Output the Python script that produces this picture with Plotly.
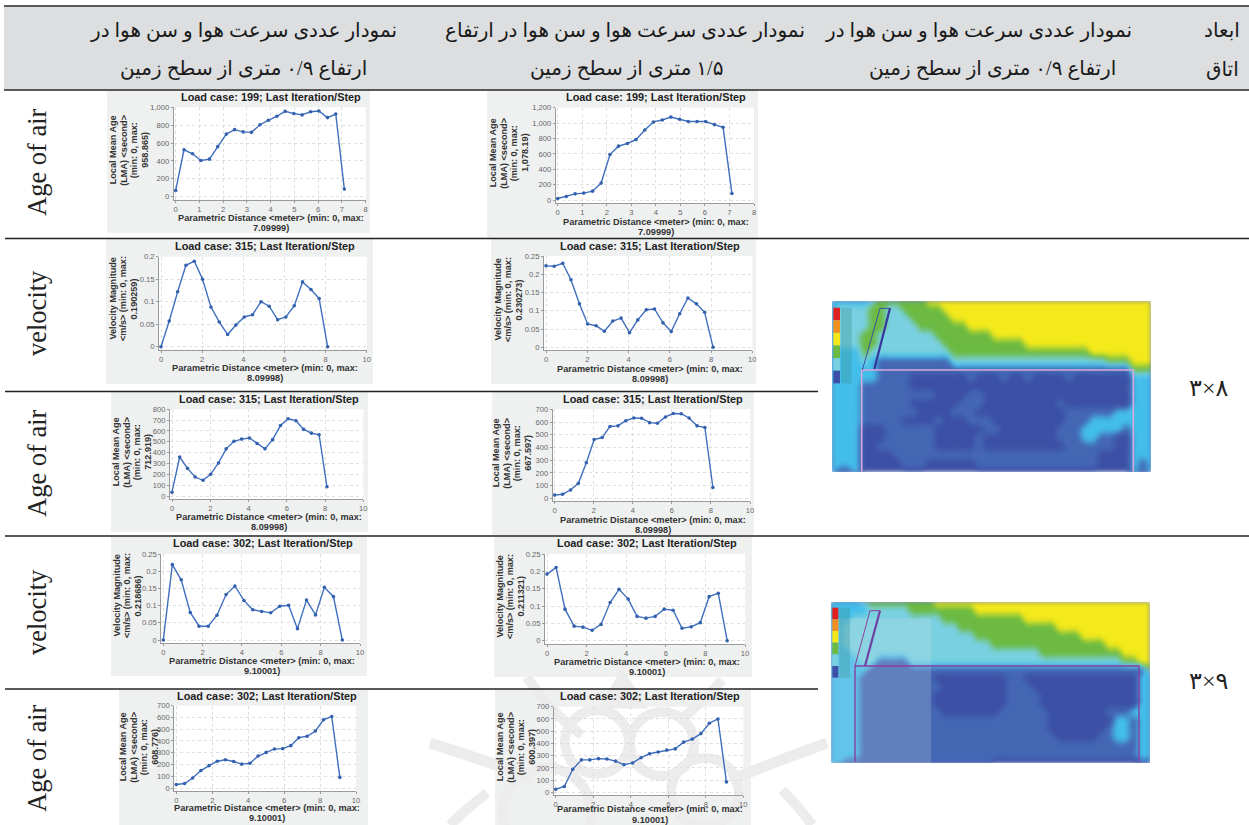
import plotly.graph_objects as go

W, H = 1249, 825

# ---------- data ----------
x71 = [0, .35, .71, 1.06, 1.42, 1.77, 2.13, 2.48, 2.84, 3.19, 3.55, 3.9, 4.26, 4.61, 4.97, 5.32, 5.68, 6.03, 6.39, 6.74, 7.1]
x81 = [0, .4, .81, 1.21, 1.62, 2.02, 2.43, 2.83, 3.24, 3.64, 4.05, 4.45, 4.86, 5.26, 5.67, 6.07, 6.48, 6.88, 7.29, 7.69, 8.1]
x91 = [0, .46, .91, 1.37, 1.82, 2.28, 2.73, 3.19, 3.64, 4.1, 4.55, 5.0, 5.46, 5.92, 6.37, 6.82, 7.28, 7.74, 8.19, 8.65, 9.1]

age_199_a = [70, 525, 480, 405, 420, 560, 700, 750, 725, 720, 805, 855, 900, 955, 930, 915, 950, 958, 885, 925, 85]
age_199_b = [20, 45, 80, 90, 115, 220, 590, 700, 735, 785, 910, 1015, 1040, 1078, 1050, 1020, 1020, 1020, 980, 945, 85]
vel_315_a = [0, .057, .122, .181, .19, .15, .088, .055, .027, .048, .066, .071, .1, .09, .06, .066, .091, .144, .127, .107, 0]
vel_315_b = [.223, .222, .23, .185, .119, .064, .059, .044, .072, .08, .04, .075, .103, .105, .067, .043, .092, .135, .119, .096, 0]
age_315_a = [35, 360, 255, 175, 145, 200, 305, 435, 505, 525, 535, 485, 435, 520, 650, 713, 695, 615, 580, 565, 85]
age_315_b = [25, 32, 65, 118, 280, 462, 478, 565, 570, 610, 632, 630, 595, 590, 640, 667, 665, 632, 570, 557, 85]
vel_302_a = [0, .219, .175, .08, .04, .04, .072, .132, .157, .115, .088, .083, .079, .098, .101, .033, .116, .073, .153, .126, 0]
vel_302_b = [.192, .211, .091, .042, .039, .03, .047, .11, .148, .12, .07, .065, .07, .091, .088, .036, .04, .052, .127, .137, 0]
age_302_a = [30, 38, 85, 148, 190, 228, 240, 225, 203, 210, 272, 303, 332, 335, 360, 428, 440, 485, 580, 608, 90]
age_302_b = [25, 48, 188, 265, 265, 275, 272, 255, 225, 240, 283, 315, 330, 345, 355, 410, 435, 480, 565, 600, 85]

age_ticks_1000 = [0, 200, 400, 600, 800, 1000]
age_ticks_1200 = [0, 200, 400, 600, 800, 1000, 1200]
age_ticks_800 = [0, 100, 200, 300, 400, 500, 600, 700, 800]
age_ticks_700 = [0, 100, 200, 300, 400, 500, 600, 700]
vel_ticks_02 = [0, .05, .1, .15, .2]
vel_ticks_025 = [0, .05, .1, .15, .2, .25]
x_ticks_8 = [0, 1, 2, 3, 4, 5, 6, 7, 8]
x_ticks_10 = [0, 2, 4, 6, 8, 10]

# flow-field levels: 0 dark blue, 1 mid blue, 2 sky, 3 pale teal, 4 green, 5 yellow
field_3x8 = [
 "2222234444445555555555555555555555555555",
 "2333344334444455555555555555555555555555",
 "2333344333444445555555555555555555555555",
 "2333344333344444455555555555555555555555",
 "2333443333333444444455555555555555555555",
 "2333443333333344444444445555555555555555",
 "2222433333333334444444444444444455555555",
 "2222321111111113333333333333333333444555",
 "2222221111111111111111111111111111111444",
 "2222221111000000010001001000010000000222",
 "2222111111000000000000000000000000000222",
 "2222111111111000011000000000000000000222",
 "2222111111000000111000000000100000000222",
 "2222111111100001110000000000011111122222",
 "2222111110000100011100000000011122222222",
 "2222000111111000000110000000111222221222",
 "2222000111111000001000000000111221100222",
 "2222001111111000001000000000011111100222",
 "2222000011111111111111111111111110000222",
 "2222000001110000001111111111111110000212",
 "2112000000000000000000000000000000000212",
]
field_3x9 = [
 "2222344444444555555555555555555555555555",
 "2222233333444444445555555555555555555555",
 "2223333333333344444444445555555555555555",
 "2233333333333333444444444444555555555555",
 "2233333333333333334444444444444555555555",
 "2233333333333333333344444444444444555555",
 "2223333333333333333333333344444444445555",
 "2222331111333333333333333333333333334455",
 "2222211111111111111111111111111111111114",
 "2222111111111000000000110000000000000022",
 "2222111111111100000000111000000000000022",
 "2222111111111000000000111100000000000022",
 "2222111111111000000000111100000000000022",
 "2222111111111100000001111110000000111222",
 "2222111111111111111111111110000000022122",
 "2222111111111111111111111110000000122122",
 "2222111111111111111111111111000001122122",
 "2222111111111111111111111111111111111122",
 "2222111111111111111111111111111111111122",
 "2211111111111111111100000000000000000011",
]

header_line1 = "نمودار عددی سرعت هوا و سن هوا در"
header_line2 = "ارتفاع ۰/۹ متری از سطح زمین"
header2_line1 = "نمودار عددی سرعت هوا و سن هوا در ارتفاع"
header2_line2 = "\u200f۱/۵ متری از سطح زمین"
header4_line1 = "ابعاد"
header4_line2 = "اتاق"
room_sizes = ["۳×۸", "۳×۹"]

# ---------- layout of the panels (pixels) ----------
AGE = ["Local Mean Age", "(LMA) &lt;second&gt;", "(min: 0, max:"]
VEL = ["Velocity Magnitude", "&lt;m/s&gt; (min: 0, max:"]
DIST = "Parametric Distance &lt;meter&gt; (min: 0, max:"

charts = [
 dict(x=x71, y=age_199_a, case=199, box=(107, 90, 370, 233), x0=175.7, x1=365.7, y0=196.7, y1=107.3, xt=x_ticks_8, yt=age_ticks_1000,
      t=(271, 97), xl=(271, 223), yl=(129, 150), ylabel=AGE + ["958.865)"], dist="7.09999)"),
 dict(x=x71, y=age_199_b, case=199, box=(487, 90, 758, 238), x0=557.7, x1=754, y0=200, y1=107.7, xt=x_ticks_8, yt=age_ticks_1200,
      t=(656, 97), xl=(656, 227), yl=(509, 153), ylabel=AGE + ["1,078.19)"], dist="7.09999)"),
 dict(x=x81, y=vel_315_a, case=315, box=(106, 239, 373, 384), x0=161, x1=366.7, y0=346.7, y1=256.7, xt=x_ticks_10, yt=vel_ticks_02,
      t=(265, 246), xl=(265, 373), yl=(123, 299), ylabel=VEL + ["0.190259)"], dist="8.09998)"),
 dict(x=x81, y=vel_315_b, case=315, box=(491, 239, 756, 384), x0=546, x1=752.3, y0=347.3, y1=256, xt=x_ticks_10, yt=vel_ticks_025,
      t=(650, 246), xl=(650, 374), yl=(508, 300), ylabel=VEL + ["0.230273)"], dist="8.09998)"),
 dict(x=x81, y=age_315_a, case=315, box=(111, 392, 368, 532), x0=172, x1=363.3, y0=496, y1=409.3, xt=x_ticks_10, yt=age_ticks_800,
      t=(269, 399), xl=(269, 522), yl=(132, 452), ylabel=AGE + ["712.919)"], dist="8.09998)"),
 dict(x=x81, y=age_315_b, case=315, box=(492, 392, 754, 535), x0=554.7, x1=750, y0=498.3, y1=409.3, xt=x_ticks_10, yt=age_ticks_700,
      t=(653, 399), xl=(653, 525), yl=(512, 453), ylabel=AGE + ["667.597)"], dist="8.09998)"),
 dict(x=x91, y=vel_302_a, case=302, box=(111, 537, 367, 676), x0=163.3, x1=360, y0=640, y1=554, xt=x_ticks_10, yt=vel_ticks_025,
      t=(263, 543), xl=(262, 666), yl=(127, 596), ylabel=VEL + ["0.218686)"], dist="9.10001)"),
 dict(x=x91, y=vel_302_b, case=302, box=(494, 537, 752, 677), x0=547, x1=745, y0=640.7, y1=554, xt=x_ticks_10, yt=vel_ticks_025,
      t=(647, 543), xl=(647, 667), yl=(510, 597), ylabel=VEL + ["0.211321)"], dist="9.10001)"),
 dict(x=x91, y=age_302_a, case=302, box=(119, 690, 368, 825), x0=176.3, x1=356, y0=788, y1=705.7, xt=x_ticks_10, yt=age_ticks_700,
      t=(267, 696), xl=(267, 813), yl=(139, 747), ylabel=AGE + ["608.776)"], dist="9.10001)"),
 dict(x=x91, y=age_302_b, case=302, box=(495, 690, 751, 825), x0=555.7, x1=743.3, y0=792.3, y1=706.7, xt=x_ticks_10, yt=age_ticks_700,
      t=(650, 696), xl=(650, 814.5), yl=(516, 747), ylabel=AGE + ["600.397)"], dist="9.10001)"),
]

fields = [
 dict(z=field_3x8, box=(832, 301, 1151, 472), org=(825, 295), wall="#d9a9dc", wallw=1.6,
      room=[(110, 530), (110, 225), (925, 225), (925, 530)], chim=[(112, 225), (165, 40), (195, 40), (148, 222)], chimc="#3a4fa6",
      edge=[(195, 40), (148, 222)], edgec="#35389a", bar=(25, 38, 45, 265)),
 dict(z=field_3x9, box=(831, 602, 1150, 763), org=(825, 595), wall="#8a3f9e", wallw=1.4,
      room=[(90, 500), (90, 213), (942, 213), (942, 500)], chim=[(90, 213), (135, 47), (165, 47), (120, 213)], chimc="#8a3f9e",
      edge=[(165, 47), (120, 213)], edgec="#6f43a6", bar=(22, 38, 40, 248)),
]

LINE = "#3f6fbe"
MARK = "#3461ad"
TICK = "#666666"
TXT = "#2b2b2b"
UI = "Liberation Sans"
AR = "Liberation Serif, DejaVu Sans"
SER = "Liberation Serif"
XPITCH = 10.6
YPITCH = 10.5


def fx(v):
    return v / W


def fy(v):
    return 1 - v / H


def rect(x0, y0, x1, y1, fill, layer="below"):
    return dict(type="rect", xref="paper", yref="paper", x0=fx(x0), x1=fx(x1), y0=fy(y1), y1=fy(y0),
                fillcolor=fill, line_width=0, layer=layer)


def hline(y, x0, x1, width=1.7, color="#222222"):
    return dict(type="line", xref="paper", yref="paper", x0=fx(x0), x1=fx(x1), y0=fy(y), y1=fy(y),
                line=dict(color=color, width=width), layer="below")


def path(points, color, width, layer="below", fill=None):
    s = "M " + " L ".join(f"{fx(a):.5f},{fy(b):.5f}" for a, b in points)
    d = dict(type="path", xref="paper", yref="paper", path=s, line=dict(color=color, width=width), layer=layer)
    if fill:
        d["path"] = s + " Z"
        d["fillcolor"] = fill
    return d


def curve(a, b, c, color, width):
    s = f"M {fx(a[0]):.5f},{fy(a[1]):.5f} Q {fx(b[0]):.5f},{fy(b[1]):.5f} {fx(c[0]):.5f},{fy(c[1]):.5f}"
    return dict(type="path", xref="paper", yref="paper", path=s, line=dict(color=color, width=width), layer="below")


def ring(cx, cy, r, color, width):
    return dict(type="circle", xref="paper", yref="paper", x0=fx(cx - r), x1=fx(cx + r), y0=fy(cy + r), y1=fy(cy - r),
                line=dict(color=color, width=width), layer="below")


def note(x, y, text, size, font=UI, color=TXT, angle=0, weight="normal"):
    return dict(x=fx(x), y=fy(y), xref="paper", yref="paper", text=text, showarrow=False, xanchor="center", yanchor="middle",
                font=dict(family=font, size=size, color=color, weight=weight), textangle=angle, align="center", borderpad=0)


fig = go.Figure()
shapes, notes = [], []
layout = {}

# header and rules
shapes.append(rect(4, 7, W, 89, "#dcdee0"))
for c in charts:
    b = c["box"]
    shapes.append(rect(b[0], b[1], b[2], b[3], "#eff1f1"))

# faint watermark
WM = "#ececec"
shapes += [
    curve((527, 677), (550, 712), (582, 735), WM, 10),
    path([(622, 668), (600, 708), (647, 708)], WM, 1, fill=WM),
    curve((722, 680), (700, 705), (678, 722), WM, 10),
    curve((430, 743), (490, 762), (532, 778), WM, 11),
    curve((827, 743), (780, 760), (730, 780), WM, 11),
    ring(597, 742, 32, WM, 10),
    ring(662, 744, 32, WM, 10),
    ring(547, 812, 44, WM, 10),
    ring(705, 792, 34, WM, 10),
    curve((487, 793), (465, 810), (450, 825), WM, 10),
    curve((782, 790), (800, 808), (812, 825), WM, 10),
]

shapes += [
    hline(6, 4, W), hline(90, 4, W), hline(238.5, 5, W), hline(391.5, 5, 818),
    hline(536, 5, W), hline(689, 5, 818),
]

# header text
for x, y, t, s in [
    (243, 30, header_line1, 20), (243, 69, header_line2, 20),
    (625, 30, header2_line1, 20), (626, 69, header2_line2, 20),
    (978, 30, header_line1, 20), (992, 69, header_line2, 20),
    (1222, 30, header4_line1, 20), (1222, 69, header4_line2, 20),
]:
    notes.append(note(x, y, t, s, AR, "#1a1a1a"))

# row labels
for y, t in [(162, "Age of air"), (313, "velocity"), (463, "Age of air"), (612, "velocity"), (758, "Age of air")]:
    notes.append(note(37, y, t, 26.5, SER, "#222222", -90))

notes.append(note(1208, 388, room_sizes[0], 24, AR, "#222222"))
notes.append(note(1208, 681, room_sizes[1], 24, AR, "#222222"))

# line charts
for i, c in enumerate(charts, start=1):
    sfx = "" if i == 1 else str(i)
    xv, yv = c["xt"], c["yt"]
    pxu = (c["x1"] - c["x0"]) / xv[-1]
    pyu = (c["y0"] - c["y1"]) / yv[-1]
    x_lo, y_lo = -2 / pxu, -3 / pyu
    left, bottom = c["x0"] - 2, c["y0"] + 3
    shapes.insert(len(charts) + 1, rect(left, c["y1"], c["x1"], bottom, "#ffffff"))
    fig.add_trace(go.Scatter(x=c["x"], y=c["y"], mode="lines+markers", xaxis=f"x{sfx}", yaxis=f"y{sfx}",
                             line=dict(color=LINE, width=1.4), marker=dict(color=MARK, size=3.6), showlegend=False,
                             cliponaxis=False, hoverinfo="skip"))
    axis = dict(showline=True, linecolor="#9a9a9a", linewidth=1, ticks="outside", ticklen=2, tickcolor="#9a9a9a",
                tickfont=dict(family=UI, size=7.6, color=TICK), zeroline=False, showgrid=True, gridcolor="#dedede",
                griddash="dot", gridwidth=1, fixedrange=True, automargin=False)
    layout[f"xaxis{sfx}"] = dict(axis, domain=[fx(left), fx(c["x1"])], range=[x_lo, xv[-1]], tickvals=xv,
                                 ticktext=[str(v) for v in xv], anchor=f"y{sfx}")
    ytxt = [f"{v:,}" if isinstance(v, int) else f"{v:g}" for v in yv]
    layout[f"yaxis{sfx}"] = dict(axis, domain=[fy(bottom), fy(c["y1"])], range=[y_lo, yv[-1]], tickvals=yv,
                                 ticktext=ytxt, anchor=f"x{sfx}")
    notes.append(note(c["t"][0], c["t"][1], f"Load case: {c['case']}; Last Iteration/Step", 10.9, UI, "#222222", weight="bold"))
    notes.append(note(c["xl"][0], c["xl"][1] - XPITCH / 2, DIST, 9.2, UI, "#333333", weight="bold"))
    notes.append(note(c["xl"][0], c["xl"][1] + XPITCH / 2, c["dist"], 9.2, UI, "#333333", weight="bold"))
    n_lines = len(c["ylabel"])
    for k, line_text in enumerate(c["ylabel"]):
        notes.append(note(c["yl"][0] + (k - (n_lines - 1) / 2) * YPITCH, c["yl"][1], line_text, 9.1, UI, "#333333", -90, weight="bold"))

# flow-field pictures
SCALE = [[0, "#3c50a6"], [.2, "#4467b4"], [.4, "#43bdea"], [.6, "#78d0e0"], [.8, "#6cba42"], [1, "#f3e91b"]]
LEGEND = ["#e02020", "#f09020", "#f6e818", "#6cba42", "#78d0e0", "#3c50a6"]
for j, f in enumerate(fields):
    n = len(charts) + 1 + j
    z = [[int(ch) for ch in row] for row in f["z"]]
    b = f["box"]
    fig.add_trace(go.Contour(z=z, xaxis=f"x{n}", yaxis=f"y{n}", colorscale=SCALE, zmin=0, zmax=5, showscale=False,
                             hoverinfo="skip", line=dict(width=0, smoothing=1.3),
                             contours=dict(coloring="fill", start=0.25, end=4.75, size=0.5, showlines=False)))
    hide = dict(visible=False, fixedrange=True)
    layout[f"xaxis{n}"] = dict(hide, domain=[fx(b[0]), fx(b[2])], range=[0, len(z[0]) - 1], anchor=f"y{n}")
    layout[f"yaxis{n}"] = dict(hide, domain=[fy(b[3]), fy(b[1])], range=[len(z) - 1, 0], anchor=f"x{n}")
    ox, oy = f["org"]
    to_px = lambda pts: [(ox + a / 3, oy + q / 3) for a, q in pts]
    if j == 1:
        shapes.append(dict(rect(b[0], oy + 70 / 3, ox + 318 / 3, b[3], "rgba(235,235,235,0.18)"), layer="above"))
    shapes.append(path(to_px(f["room"]), f["wall"], f["wallw"], "above"))
    shapes.append(path(to_px(f["chim"]), f["chimc"], 1.0, "above"))
    shapes.append(path(to_px(f["edge"]), f["edgec"], 2.2, "above"))
    bx0, by0, bx1, by1 = f["bar"]
    step = (by1 - by0) / len(LEGEND)
    for k, col in enumerate(LEGEND):
        shapes.append(dict(rect(ox + bx0 / 3, oy + (by0 + k * step) / 3, ox + bx1 / 3, oy + (by0 + (k + 1) * step) / 3, col), layer="above"))
    shapes.append(dict(rect(ox + (bx1 + 3) / 3, oy + by0 / 3, ox + (bx1 + 35) / 3, oy + by1 / 3, "rgba(60,150,150,0.35)"), layer="above"))

fig.update_layout(width=W, height=H, margin=dict(l=0, r=0, t=0, b=0, autoexpand=False), paper_bgcolor="#ffffff",
                  plot_bgcolor="rgba(0,0,0,0)", showlegend=False, shapes=shapes, annotations=notes, **layout)
fig.write_html("out.html", config=dict(displayModeBar=False),
               post_script="document.body.style.margin='0';document.body.style.overflow='hidden';"
                           "document.querySelectorAll('.contour .contourbg, .contour .contourfill').forEach(function(e){e.style.filter='blur(2.2px)';});")
